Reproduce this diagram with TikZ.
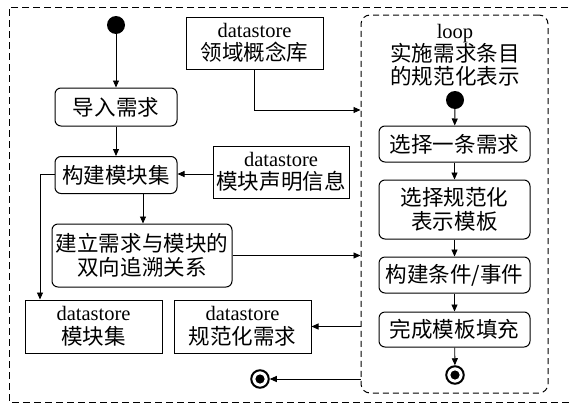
\documentclass[tikz,border=0pt]{standalone}
\usepackage{fontspec}
\setmainfont{Liberation Serif}
\newfontfamily\cjk[Scale=1.05]{Noto Sans CJK SC}
\usetikzlibrary{arrows.meta}
\begin{document}
\begin{tikzpicture}[x=1pt,y=-1pt,
  act/.style={draw, rounded corners=6pt, line width=1pt, align=center, inner sep=0pt,
    font=\fontsize{20.5}{24}\selectfont\cjk},
  store/.style={draw, line width=1pt, align=center, inner sep=0pt,
    font=\fontsize{20.5}{23.5}\selectfont},
  arr/.style={-{Triangle[length=7pt,width=6pt]}, line width=0.9pt},
  startdot/.style={circle, fill, inner sep=0pt, minimum size=18pt},
  enddot/.style={circle, draw, line width=2pt, inner sep=0pt, minimum size=17.5pt,
    path picture={\fill (path picture bounding box.center) circle (4.6pt);}}
]
\useasboundingbox (0,0) rectangle (569,407);
% outer frame
\draw[line width=1pt, dash pattern=on 7pt off 4pt] (590,7) -- (9,7) -- (9,402) -- (590,402);
% loop region
\node[draw, line width=1pt, dash pattern=on 6pt off 4pt, rounded corners=9pt,
  minimum width=187pt, minimum height=378pt, inner sep=0pt] (loop) at (454.5,204) {};
\node[align=center, font=\fontsize{20.5}{23}\selectfont] (ltitle) at (455,55)
  {loop\\{\cjk 实施需求条目}\\{\cjk 的规范化表示}};
% left part
\node[startdot] (s0) at (116,25) {};
\node[act, minimum width=122pt, minimum height=38pt] (n1) at (116,107) {导入需求};
\node[act, minimum width=122pt, minimum height=37pt] (n2) at (116,175) {构建模块集};
\node[act, minimum width=180pt, minimum height=63pt] (n3) at (142,255.5) {建立需求与模块的\\双向追溯关系};
\node[store, minimum width=137pt, minimum height=52pt] (d1) at (254.5,43) {datastore\\{\cjk 领域概念库}};
\node[store, minimum width=136pt, minimum height=52pt] (d2) at (281,172) {datastore\\{\cjk 模块声明信息}};
\node[store, minimum width=137pt, minimum height=53pt] (d3) at (93.5,326.5) {datastore\\{\cjk 模块集}};
\node[store, minimum width=137pt, minimum height=53pt] (d4) at (242.5,326.5) {datastore\\{\cjk 规范化需求}};
\node[enddot] (fe) at (260,379) {};
% loop contents
\node[startdot] (ls) at (455,100) {};
\node[act, minimum width=151pt, minimum height=36pt] (l1) at (454.5,144) {选择一条需求};
\node[act, minimum width=151pt, minimum height=59pt] (l2) at (454.5,209.5) {选择规范化\\表示模板};
\node[act, minimum width=151pt, minimum height=36pt] (l3) at (454.5,275) {构建条件/事件};
\node[act, minimum width=151pt, minimum height=35pt] (l4) at (454.5,329.5) {完成模板填充};
\node[enddot] (le) at (455,375) {};
% helper coordinates
\coordinate (c1) at (40,0);
\coordinate (c2) at (143,0);
\coordinate (c3) at (0,110);
\coordinate (c4) at (0,174);
% connectors
\draw[arr] (s0) -- (n1);
\draw[arr] (n1) -- (n2);
\draw[arr] (d2.west |- c4) -- (n2.east |- c4);
\draw[arr] (n2.west |- c4) -| (c1 |- d3.north);
\draw[arr] (c2 |- n2.south) -- (c2 |- n3.north);
\draw[arr] (d1.south) |- (loop.west |- c3);
\draw[arr] (n3.east) -- (loop.west |- n3.east);
\draw[arr] (loop.west |- d4.east) -- (d4.east);
\draw[arr] (loop.west |- fe) -- (fe);
\draw[arr] (ls) -- (l1);
\draw[arr] (l1) -- (l2);
\draw[arr] (l2) -- (l3);
\draw[arr] (l3) -- (l4);
\draw[arr] (l4) -- (le);
\end{tikzpicture}
\end{document}
